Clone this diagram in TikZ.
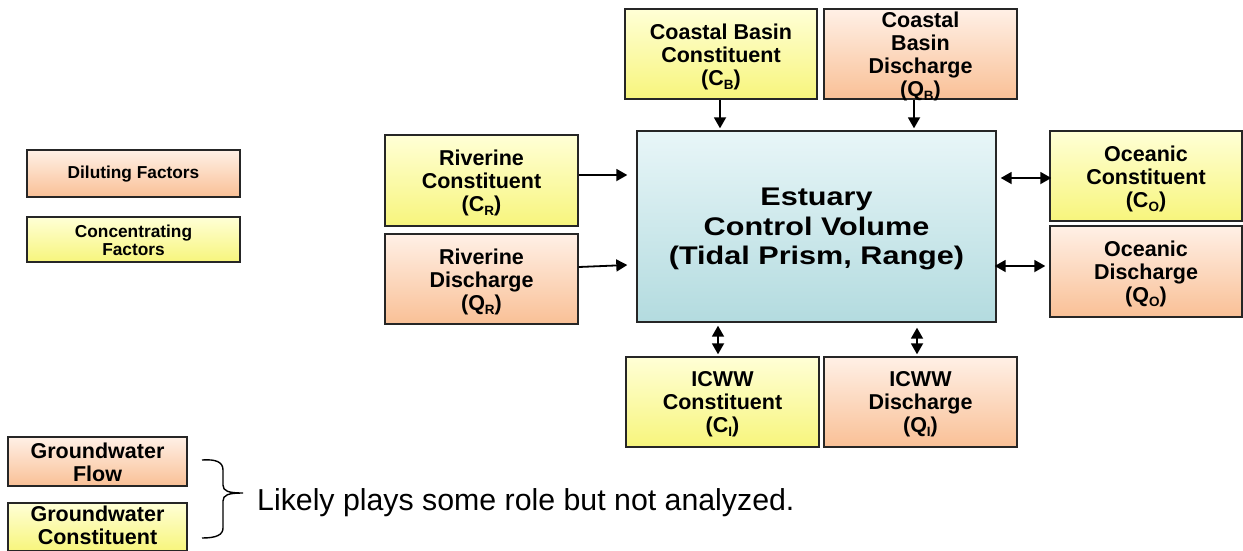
\documentclass[tikz,border=0pt]{standalone}
\usepackage{fontspec}
\setmainfont{Liberation Sans}
\newfontfamily\estfont{Liberation Sans}[FakeStretch=1.2]
\usetikzlibrary{arrows.meta}
\newcommand\lowsub[1]{\raisebox{-4pt}{\fontsize{13.5}{13.5}\selectfont #1}}
\definecolor{ytop}{HTML}{FFFFD6}
\definecolor{ybot}{HTML}{F7F57C}
\definecolor{ptop}{HTML}{FFF0E6}
\definecolor{pbot}{HTML}{F9C096}
\definecolor{btop}{HTML}{E8F6F8}
\definecolor{bbot}{HTML}{B3DBDF}
\definecolor{edge}{HTML}{262626}
\tikzset{
  box/.style={draw=edge, line width=1.4pt, inner sep=0pt},
  ybox/.style={box, top color=ytop, bottom color=ybot},
  pbox/.style={box, top color=ptop, bottom color=pbot},
  lbl/.style={align=center, inner sep=0pt, yshift=-2.5pt,
    font=\fontsize{21.5}{23}\selectfont\bfseries},
  glbl/.style={lbl, yshift=2pt},
  leglbl/.style={align=center, inner sep=0pt, yshift=-1pt,
    font=\fontsize{17.3}{18}\selectfont\bfseries},
  estlbl/.style={align=center, inner sep=0pt, yshift=-2.5pt,
    font=\estfont\fontsize{25.5}{29.5}\selectfont\bfseries},
  arr/.style={line width=1.8pt, -{Triangle[length=11pt,width=12pt]}},
  darr/.style={line width=1.8pt, {Triangle[length=11pt,width=12pt]}-{Triangle[length=11pt,width=12pt]}},
}
\begin{document}
\begin{tikzpicture}[x=1pt,y=-1pt]
\clip (0,0) rectangle (1243,550);
\fill[white] (0,0) rectangle (1243,550);

% central box
\node[box, top color=btop, bottom color=bbot, minimum width=359pt, minimum height=191pt,
  label={[estlbl]center:{Estuary\\Control Volume\\(Tidal Prism, Range)}}] (est) at (816.5,226.5) {};

% top boxes
\node[ybox, minimum width=192pt, minimum height=90pt,
  label={[lbl]center:{Coastal Basin\\Constituent\\(C\lowsub{B})}}] (cbc) at (721,54) {};
\node[pbox, minimum width=193pt, minimum height=90pt,
  label={[lbl]center:{Coastal\\Basin\\Discharge\\(Q\lowsub{B})}}] (cbd) at (920.5,54) {};

% left boxes
\node[ybox, minimum width=193pt, minimum height=91pt,
  label={[lbl]center:{Riverine\\Constituent\\(C\lowsub{R})}}] (rc) at (481.5,180.5) {};
\node[pbox, minimum width=193pt, minimum height=90pt,
  label={[lbl]center:{Riverine\\Discharge\\(Q\lowsub{R})}}] (rd) at (481.5,279) {};

% right boxes
\node[ybox, minimum width=192pt, minimum height=90pt,
  label={[lbl]center:{Oceanic\\Constituent\\(C\lowsub{O})}}] (oc) at (1146,176) {};
\node[pbox, minimum width=192pt, minimum height=91pt,
  label={[lbl]center:{Oceanic\\Discharge\\(Q\lowsub{O})}}] (od) at (1146,271.5) {};

% bottom boxes
\node[ybox, minimum width=193pt, minimum height=90pt,
  label={[lbl]center:{ICWW\\Constituent\\(C\lowsub{I})}}] (ic) at (722.5,402) {};
\node[pbox, minimum width=193pt, minimum height=90pt,
  label={[lbl]center:{ICWW\\Discharge\\(Q\lowsub{I})}}] (id) at (920.5,402) {};

% legend
\node[pbox, minimum width=213pt, minimum height=47pt,
  label={[leglbl]center:{Diluting Factors}}] (dil) at (133.5,173.5) {};
\node[ybox, minimum width=213pt, minimum height=45pt,
  label={[leglbl]center:{Concentrating\\Factors}}] (con) at (133.5,239.5) {};

% groundwater
\node[pbox, minimum width=179pt, minimum height=49pt,
  label={[glbl]center:{Groundwater\\Flow}}] (gwf) at (97.5,461.5) {};
\node[ybox, minimum width=179pt, minimum height=48pt,
  label={[glbl, yshift=2pt]center:{Groundwater\\Constituent}}] (gwc) at (97.5,527) {};

% arrows into estuary
\draw[arr] ([xshift=-1pt]cbc.south) -- ([xshift=-1pt,yshift=2pt]cbc.south |- est.north);
\draw[arr] ([xshift=-6.5pt]cbd.south) -- ([xshift=-6.5pt,yshift=2pt]cbd.south |- est.north);
\draw[arr] ([yshift=5.5pt]rc.east) -- ([xshift=-9pt,yshift=5.5pt]rc.east -| est.west);
\draw[arr] ([yshift=12pt]rd.east) -- ([xshift=-9pt,yshift=14pt]rd.east -| est.west);

% two-way arrows
\draw[darr] ([xshift=4pt,yshift=-2pt]oc.west -| est.east) -- ([xshift=2pt,yshift=-2pt]oc.west);
\draw[darr] ([xshift=-2pt,yshift=5.5pt]od.west -| est.east) -- ([xshift=-4pt,yshift=5.5pt]od.west);
\draw[darr] ([xshift=-4.5pt,yshift=-3pt]ic.north |- est.south) -- ([xshift=-4.5pt,yshift=2pt]ic.north);
\draw[darr] ([xshift=-3.5pt,yshift=-5pt]id.north |- est.south) -- ([xshift=-3.5pt,yshift=2pt]id.north);

% brace
\draw[line width=1.4pt] (202,460) .. controls (216,459) and (223,462) .. (223,470)
  -- (223,485) .. controls (223,491) and (228,493) .. (243,493)
  .. controls (228,493) and (223,495) .. (223,501)
  -- (223,528) .. controls (223,535) and (216,538) .. (202,538);
\node[anchor=base west, font=\fontsize{30.3}{34}\selectfont, inner sep=0pt] (note) at (257,510)
  {Likely plays some role but not analyzed.};
\end{tikzpicture}
\end{document}
